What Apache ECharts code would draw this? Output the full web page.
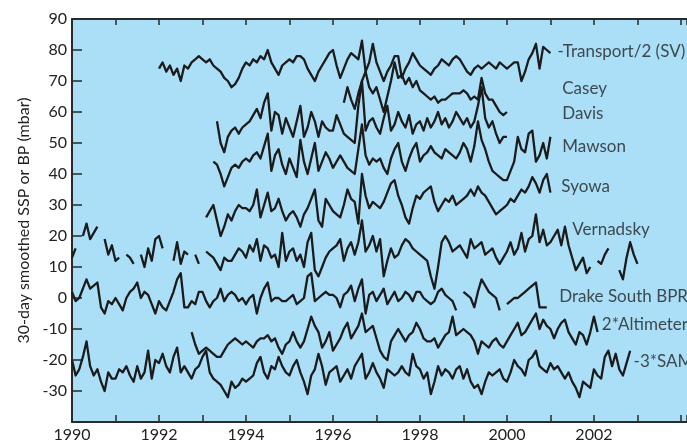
<!DOCTYPE html>
<html><head><meta charset="utf-8">
<script src="https://cdn.jsdelivr.net/npm/echarts@6/dist/echarts.min.js"></script>
<style>html,body{margin:0;padding:0;background:#fff;}#c{width:687px;height:441px;}</style>
</head><body><div id="c"></div>
<script>
// Monthly values; each series starts at the given decimal year
const transportStart = 1992.0;
const transport = [
74,76,73,75,72,74,70,75,74,76,77,78,
77,76,77,75,74,73,71,70,68,69,71,74,
76,75,77,76,78,77,80,76,74,72,75,76,
77,76,78,78,77,74,72,70,73,75,77,79,
80,75,71,74,77,79,78,77,83,73,76,82,
76,73,70,73,75,78,78,71,74,76,79,77,
75,74,73,72,74,75,77,76,75,77,78,77,
75,73,72,74,75,74,75,76,75,74,76,75,
74,75,76,76,70,73,77,79,82,74,81,80,
79];
const caseyStart = 1996.25;
const casey = [
63,68,64,61,66,70,73,68,66,
68,64,60,65,70,76,71,72,69,71,68,70,
67,66,65,64,65,63,64,64,65,66,66,66,
67,66,64,65,64,71,66,64,64,62,60,59,
60];
const davisStart = 1993 + 4/12;
const davis = [
57,50,47,52,54,55,53,55,
56,57,59,61,58,63,66,54,60,59,53,58,
55,52,57,62,52,55,60,57,52,57,55,54,
54,59,56,53,52,51,50,62,70,54,57,58,
55,53,58,62,54,56,60,57,55,59,53,56,
57,54,58,55,57,60,56,58,55,57,60,58,
56,58,55,57,62,68,58,55,57,53,50,52,
52];
const mawsonStart = 1993.25;
const mawson = [
44,43,40,36,39,42,43,42,44,
45,44,46,47,45,49,53,41,46,48,43,40,
45,42,39,51,44,40,45,50,41,44,47,45,
42,44,46,44,42,41,40,48,56,46,43,45,
44,45,42,40,45,48,50,44,41,45,48,50,
44,46,47,49,47,46,45,48,47,46,45,47,
50,48,44,49,57,51,48,44,41,40,39,38,
38,41,44,52,48,47,53,54,44,46,50,45,
52];
const syowaStart = 1993 + 1/12;
const syowa = [
26,28,30,25,20,23,27,25,28,30,29,
29,28,30,35,26,30,34,28,29,32,28,25,
27,28,26,23,27,29,32,35,25,23,32,30,
28,27,26,30,35,32,31,24,40,33,29,31,
30,29,31,34,37,38,33,30,26,24,29,33,
32,34,35,36,31,28,30,32,31,33,30,31,
32,33,35,33,36,34,33,31,29,27,28,29,
30,32,31,33,35,34,36,39,37,34,38,40,
34];
const vernadskyStart = 1990.0;
const vernadsky = [
13,16,null,20,24,19,21,23,null,19,14,17,
12,13,null,14,13,11,null,14,10,16,12,19,
20,16,null,null,12,18,11,15,14,null,14,11,
null,15,14,13,11,9,13,12,12,14,16,15,
13,17,15,19,12,17,16,13,14,10,21,12,
15,16,12,14,10,18,21,9,7,10,13,15,
16,17,19,12,16,18,14,18,25,15,17,20,
15,19,7,12,16,13,14,17,19,18,16,15,
14,13,12,7,3,10,18,20,18,15,16,17,
15,13,19,16,17,18,14,15,16,13,11,13,
15,18,14,16,21,15,19,20,27,18,22,17,
18,20,22,17,23,17,13,9,11,13,8,10,
null,12,11,14,16,null,null,9,6,13,18,14,
11];
const drakeStart = 1990.0;
const drake = [
2,-1,0,3,6,3,4,5,-3,-5,-1,-2,
0,-2,-4,0,2,3,5,0,2,1,-2,-5,
-1,-3,-4,-1,2,6,8,-3,-3,-1,-2,2,
2,-1,-3,-1,0,3,-1,1,2,1,-1,0,
-2,0,1,-5,0,3,5,-1,0,0,-1,-1,
0,1,-2,-1,0,7,8,-1,0,1,2,1,
1,0,-3,1,2,4,-1,3,6,-5,1,2,
-1,1,3,-2,0,2,-1,0,2,1,-1,2,
2,0,-1,-2,-1,2,3,1,0,-1,-4,null,
2,1,0,-3,2,6,4,2,1,0,-4,null,
-2,-1,0,0,1,2,3,4,5,-3,-3,-3];
const altimeterStart = 1992.75;
const altimeter = [
-11,-15,-18,
-17,-16,-17,-18,-19,-19,-17,-15,-14,-13,-14,-15,
-14,-15,-16,-14,-13,-13,-12,-14,-13,-16,-18,-15,
-14,-11,-14,-16,-14,-10,-6,-9,-11,-16,-14,-11,
-17,-15,-13,-10,-8,-13,-11,-9,-5,-11,-10,-9,
-13,-17,-19,-20,-14,-12,-10,-12,-14,-12,-11,-8,
-10,-13,-14,-14,-13,-16,-14,-12,-11,-6,-12,-11,
-10,-11,-12,-14,-18,-14,-15,-16,-14,-13,-15,-16,
-14,-12,-10,-8,-12,-11,-9,-7,-5,-10,-7,-9,
-10,-13,-10,-8,-7,-11,-13,-15,-11,-12,-15,-11,
-6,-11];
const samStart = 1990.0;
const sam = [
-20,-25,-23,-19,-14,-22,-25,-23,-27,-30,-24,-26,
-26,-23,-24,-22,-25,-27,-22,-26,-24,-17,-26,-20,
-21,-18,-22,-24,-19,-16,-24,-22,-24,-26,-23,-22,
-19,-17,-24,-26,-27,-28,-30,-32,-27,-29,-28,-26,
-27,-26,-25,-21,-19,-24,-26,-22,-23,-19,-22,-24,
-25,-22,-20,-24,-27,-31,-25,-23,-18,-22,-28,-24,
-23,-22,-27,-25,-23,-26,-22,-20,-18,-26,-24,-21,
-24,-26,-29,-23,-24,-25,-24,-22,-24,-25,-18,-22,
-23,-26,-24,-31,-27,-22,-25,-23,-24,-26,-23,-22,
-26,-23,-27,-29,-28,-31,-27,-24,-25,-24,-23,-26,
-27,-24,-20,-22,-23,-25,-20,-19,-17,-22,-23,-24,
-21,-23,-22,-24,-26,-24,-27,-29,-32,-27,-28,-29,
-23,-25,-26,-19,-17,-22,-18,-23,-25,-21,-17];

const labelNames = ['-Transport/2 (SV)','Casey','Davis','Mawson','Syowa','Vernadsky','Drake South BPR','2*Altimeter','-3*SAM'];
const labelYears = [2001.15, 2001.26, 2001.26, 2001.26, 2001.24, 2001.49, 2001.19, 2002.17, 2002.9];
const labelValues = [79.5, 67.6, 59.6, 48.8, 35.9, 22.2, 0.6, -8.7, -20.6];
const xLabelYears = [1990, 1992, 1994, 1996, 1998, 2000, 2002];
const xMin = 1990, xMax = 2004.14;

const FONT = 'Lato, "Open Sans", sans-serif';
const INK = '#1b1b1b';

function pts(start, vals) {
  return vals.map((v, i) => [start + i / 12, v === null ? '-' : v]);
}
const seriesDefs = [
  [transportStart, transport], [caseyStart, casey], [davisStart, davis],
  [mawsonStart, mawson], [syowaStart, syowa], [vernadskyStart, vernadsky],
  [drakeStart, drake], [altimeterStart, altimeter], [samStart, sam]
];
const lineSeries = seriesDefs.map(([s, v], k) => ({
  type: 'line', name: labelNames[k], data: pts(s, v), showSymbol: false,
  symbol: 'none', connectNulls: false, smooth: false, silent: true,
  lineStyle: { color: INK, width: 2.3, join: 'round' }, z: 3
}));

const chart = echarts.init(document.getElementById('c'), null, { renderer: 'canvas' });
const axisCommon = {
  type: 'value', min: xMin, max: xMax, interval: 1,
  axisLine: { show: true, onZero: false, lineStyle: { color: '#2a2a2a', width: 2 } },
  splitLine: { show: false }
};
chart.setOption({
  animation: false,
  backgroundColor: '#ffffff',
  grid: { left: 72, top: 19, right: 0, height: 403, show: true, backgroundColor: '#abdff8', borderWidth: 0,
          outerBoundsMode: 'none', containLabel: false },
  xAxis: [
    Object.assign({}, axisCommon, {
      position: 'bottom',
      axisTick: { show: true, inside: true, length: 7, lineStyle: { color: '#2a2a2a', width: 1.5 } },
      axisLabel: {
        fontSize: 16, color: '#222', fontFamily: FONT, margin: 5,
        formatter: v => xLabelYears.indexOf(v) >= 0 ? String(v) : ''
      }
    }),
    Object.assign({}, axisCommon, {
      position: 'top',
      axisTick: { show: true, inside: true, length: 6, lineStyle: { color: '#2a2a2a', width: 1.5 } },
      axisLabel: { show: false }
    })
  ],
  yAxis: {
    type: 'value', min: -40, max: 90, interval: 10,
    axisLine: { show: true, onZero: false, lineStyle: { color: '#2a2a2a', width: 2 } },
    axisTick: { show: true, inside: true, length: 10, lineStyle: { color: '#2a2a2a', width: 1.5 } },
    axisLabel: { fontSize: 16, color: '#222', fontFamily: FONT, margin: 5,
      formatter: v => v === -40 ? '' : String(v) },
    splitLine: { show: false },
    name: '30-day smoothed SSP or BP (mbar)', nameLocation: 'middle', nameGap: 39,
    nameTextStyle: { fontSize: 16, color: '#222', fontFamily: FONT }
  },
  series: lineSeries.concat([{
    type: 'scatter', silent: true, symbolSize: 1,
    itemStyle: { color: 'rgba(0,0,0,0)' },
    data: labelYears.map((x, i) => ({ value: [x, labelValues[i]], name: labelNames[i] })),
    label: { show: true, position: 'right', distance: 0, formatter: '{b}',
      fontSize: 17, color: '#222', fontFamily: FONT },
    z: 5
  }])
});
</script></body></html>
